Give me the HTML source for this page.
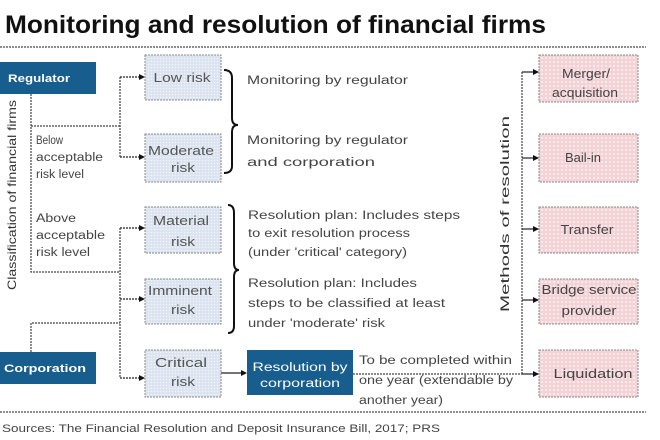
<!DOCTYPE html>
<html><head><meta charset="utf-8"><style>
html,body{margin:0;padding:0;background:#fff;}
svg{display:block;}
text{font-family:"Liberation Sans",sans-serif;}
</style></head><body>
<svg width="660" height="440" viewBox="0 0 660 440" xmlns="http://www.w3.org/2000/svg">
<defs>
<pattern id="pb" width="3" height="3" patternUnits="userSpaceOnUse"><rect width="3" height="3" fill="#dae3ef"/><circle cx="1.5" cy="1.5" r="0.8" fill="#f2f5fa"/></pattern>
<pattern id="pp" width="4" height="4" patternUnits="userSpaceOnUse"><rect width="4" height="4" fill="#f4d2d6"/><circle cx="2" cy="2" r="1.1" fill="#fbeef0"/></pattern>
<marker id="ar" markerWidth="6" markerHeight="6" refX="5" refY="3" orient="auto" markerUnits="userSpaceOnUse"><path d="M0,0 L6,3 L0,6 Z" fill="#111"/></marker>
</defs>

<!-- Title -->
<text x="5" y="33" font-size="25" font-weight="bold" fill="#111" textLength="541" lengthAdjust="spacingAndGlyphs">Monitoring and resolution of financial firms</text>
<line x1="0" y1="47" x2="646" y2="47" stroke="#666" stroke-width="1.5" stroke-dasharray="2 1"/>

<!-- Regulator -->
<rect x="0" y="62" width="96" height="32" fill="#175d8d"/>
<text x="8" y="82" font-size="11" font-weight="bold" fill="#fff" textLength="62" lengthAdjust="spacingAndGlyphs">Regulator</text>

<!-- Corporation -->
<rect x="0" y="352" width="96" height="32" fill="#175d8d"/>
<text x="4" y="372" font-size="11" font-weight="bold" fill="#fff" textLength="82" lengthAdjust="spacingAndGlyphs">Corporation</text>

<!-- Left rotated label -->
<text transform="translate(16,195) rotate(-90)" text-anchor="middle" font-size="12" fill="#333" textLength="190" lengthAdjust="spacingAndGlyphs">Classification of financial firms</text>

<!-- connectors left -->
<g stroke="#444" stroke-width="1.2" stroke-dasharray="2 1" fill="none">
<path d="M31,94 V272 H120"/>
<path d="M31,126 H120"/>
<path d="M120,77 V157"/>
<path d="M120,228 V378"/>
<path d="M31,352 V323 H120"/>
</g>
<g stroke="#222" stroke-width="1.2" fill="none" marker-end="url(#ar)">
<line x1="120" y1="77" x2="144" y2="77" stroke-dasharray="2 1"/>
<line x1="120" y1="157" x2="144" y2="157" stroke-dasharray="2 1"/>
<line x1="120" y1="228" x2="144" y2="228" stroke-dasharray="2 1"/>
<line x1="120" y1="299" x2="144" y2="299" stroke-dasharray="2 1"/>
<line x1="120" y1="378" x2="144" y2="378" stroke-dasharray="2 1"/>
<line x1="221" y1="373" x2="246" y2="373"/>
</g>

<g font-size="11.5" fill="#444">
<text x="36" y="144" textLength="27" lengthAdjust="spacingAndGlyphs">Below</text>
<text x="36" y="161" textLength="67" lengthAdjust="spacingAndGlyphs">acceptable</text>
<text x="36" y="178" textLength="48" lengthAdjust="spacingAndGlyphs">risk level</text>
<text x="36" y="222" textLength="40" lengthAdjust="spacingAndGlyphs">Above</text>
<text x="36" y="239" textLength="69" lengthAdjust="spacingAndGlyphs">acceptable</text>
<text x="36" y="256" textLength="54" lengthAdjust="spacingAndGlyphs">risk level</text>
</g>

<!-- Risk boxes -->
<g fill="url(#pb)" stroke="#888" stroke-width="1" stroke-dasharray="2 1">
<rect x="145" y="55" width="76" height="45"/>
<rect x="145" y="134" width="76" height="48"/>
<rect x="145" y="207" width="76" height="46"/>
<rect x="145" y="279" width="76" height="45"/>
<rect x="145" y="350" width="76" height="47"/>
</g>
<g font-size="12.5" fill="#555" text-anchor="middle">
<text x="182" y="82" textLength="57" lengthAdjust="spacingAndGlyphs">Low risk</text>
<text x="181" y="155" textLength="66" lengthAdjust="spacingAndGlyphs">Moderate</text>
<text x="183" y="172" textLength="24" lengthAdjust="spacingAndGlyphs">risk</text>
<text x="181" y="225" textLength="56" lengthAdjust="spacingAndGlyphs">Material</text>
<text x="183" y="246" textLength="24" lengthAdjust="spacingAndGlyphs">risk</text>
<text x="180" y="295" textLength="64" lengthAdjust="spacingAndGlyphs">Imminent</text>
<text x="183" y="314" textLength="24" lengthAdjust="spacingAndGlyphs">risk</text>
<text x="181" y="367" textLength="52" lengthAdjust="spacingAndGlyphs">Critical</text>
<text x="183" y="386" textLength="24" lengthAdjust="spacingAndGlyphs">risk</text>
</g>

<!-- Braces -->
<g stroke="#111" stroke-width="2" fill="none">
<path d="M224,70 Q232,70 232,78 V118 Q232,125 238,125 Q232,125 232,132 V166 Q232,173 224,173"/>
<path d="M228,205 Q234,205 234,213 V263 Q234,270 239,270 Q234,270 234,277 V326 Q234,333 228,333"/>
</g>

<g font-size="11.5" fill="#444">
<text x="247" y="84" textLength="161" lengthAdjust="spacingAndGlyphs">Monitoring by regulator</text>
<text x="247" y="144" textLength="161" lengthAdjust="spacingAndGlyphs">Monitoring by regulator</text>
<text x="247" y="166" textLength="128" lengthAdjust="spacingAndGlyphs">and corporation</text>
<text x="248" y="219" textLength="212" lengthAdjust="spacingAndGlyphs">Resolution plan: Includes steps</text>
<text x="248" y="237" textLength="162" lengthAdjust="spacingAndGlyphs">to exit resolution process</text>
<text x="248" y="256" textLength="159" lengthAdjust="spacingAndGlyphs">(under 'critical' category)</text>
<text x="248" y="287" textLength="169" lengthAdjust="spacingAndGlyphs">Resolution plan: Includes</text>
<text x="248" y="307" textLength="197" lengthAdjust="spacingAndGlyphs">steps to be classified at least</text>
<text x="248" y="327" textLength="137" lengthAdjust="spacingAndGlyphs">under 'moderate' risk</text>
</g>

<!-- Resolution by corporation -->
<rect x="247" y="350" width="106" height="45" fill="#175d8d"/>
<text x="300" y="371" font-size="11.5" fill="#fff" text-anchor="middle" textLength="95" lengthAdjust="spacingAndGlyphs">Resolution by</text>
<text x="300" y="387" font-size="11.5" fill="#fff" text-anchor="middle" textLength="80" lengthAdjust="spacingAndGlyphs">corporation</text>

<g font-size="11.5" fill="#444">
<text x="359" y="364" textLength="153" lengthAdjust="spacingAndGlyphs">To be completed within</text>
<text x="359" y="384" textLength="154" lengthAdjust="spacingAndGlyphs">one year (extendable by</text>
<text x="359" y="404" textLength="84" lengthAdjust="spacingAndGlyphs">another year)</text>
</g>

<!-- Right connectors -->
<g stroke="#444" stroke-width="1.2" stroke-dasharray="2 1" fill="none">
<path d="M522,72 V374"/>
<path d="M353,374 H522"/>
</g>
<g stroke="#222" stroke-width="1.2" fill="none" marker-end="url(#ar)">
<line x1="522" y1="72" x2="538" y2="72"/>
<line x1="522" y1="158" x2="538" y2="158"/>
<line x1="522" y1="229" x2="538" y2="229"/>
<line x1="522" y1="300" x2="538" y2="300"/>
<line x1="522" y1="374" x2="538" y2="374"/>
</g>

<text transform="translate(509,214) rotate(-90)" text-anchor="middle" font-size="11.5" fill="#333" textLength="196" lengthAdjust="spacingAndGlyphs">Methods of resolution</text>

<!-- Right boxes -->
<g fill="url(#pp)" stroke="#888" stroke-width="1" stroke-dasharray="2 1">
<rect x="539" y="55" width="99" height="47"/>
<rect x="539" y="134" width="99" height="48"/>
<rect x="539" y="207" width="99" height="46"/>
<rect x="539" y="279" width="99" height="45"/>
<rect x="539" y="350" width="99" height="47"/>
</g>
<g font-size="12.5" fill="#444" text-anchor="middle">
<text x="586" y="78" textLength="48" lengthAdjust="spacingAndGlyphs">Merger/</text>
<text x="585" y="97" textLength="66" lengthAdjust="spacingAndGlyphs">acquisition</text>
<text x="583" y="162" textLength="36" lengthAdjust="spacingAndGlyphs">Bail-in</text>
<text x="587" y="234" textLength="53" lengthAdjust="spacingAndGlyphs">Transfer</text>
<text x="589" y="294" textLength="95" lengthAdjust="spacingAndGlyphs">Bridge service</text>
<text x="589" y="315" textLength="55" lengthAdjust="spacingAndGlyphs">provider</text>
<text x="593" y="378" textLength="79" lengthAdjust="spacingAndGlyphs">Liquidation</text>
</g>

<line x1="0" y1="412" x2="646" y2="412" stroke="#666" stroke-width="1.5" stroke-dasharray="2 1"/>
<text x="2" y="432" font-size="11" fill="#444" textLength="438" lengthAdjust="spacingAndGlyphs">Sources: The Financial Resolution and Deposit Insurance Bill, 2017; PRS</text>
</svg>
</body></html>
